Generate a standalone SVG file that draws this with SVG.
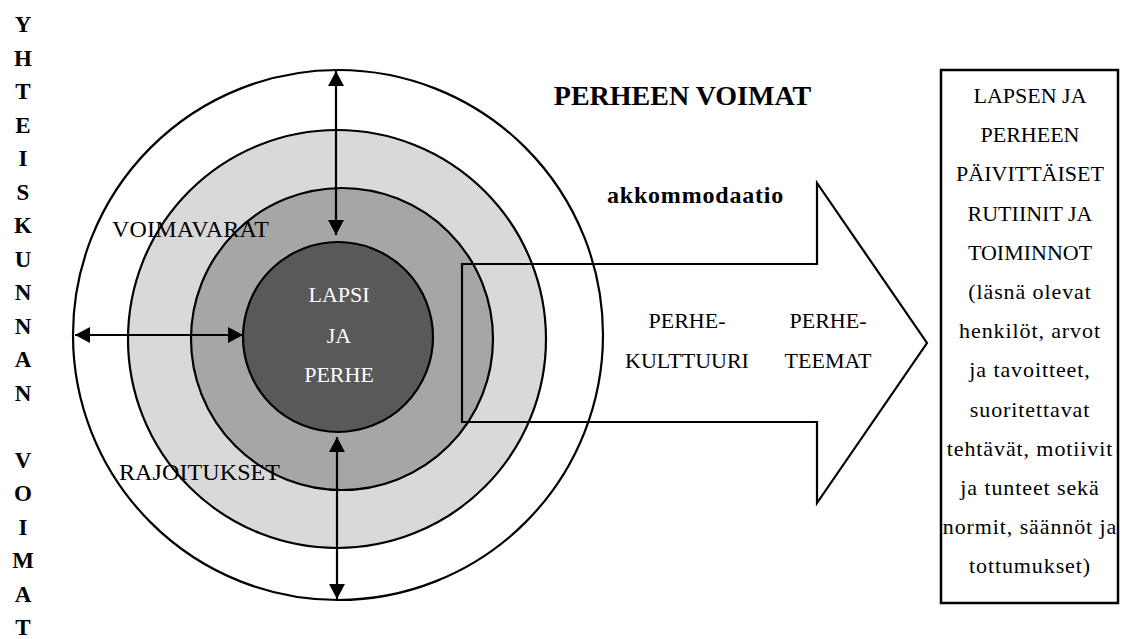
<svg xmlns="http://www.w3.org/2000/svg" width="1125" height="639" viewBox="0 0 1125 639">
<style>
.t{font-family:"Liberation Serif","Times New Roman",serif;fill:#000}
.b{font-weight:bold}
.w{fill:#fff}
.ln{fill:none;stroke:#000;stroke-width:2.2}
.el{stroke:#000;stroke-width:2.2}
</style>
<defs>
<marker id="ah" viewBox="0 0 15 16" refX="15" refY="8" markerWidth="15" markerHeight="16" markerUnits="userSpaceOnUse" orient="auto-start-reverse">
<path d="M0,0 L15,8 L0,16 Z" fill="#000"/>
</marker>
</defs>
<rect width="1125" height="639" fill="#fff"/>

<g id="society" class="t b" font-size="23" text-anchor="middle">
<text x="23" y="32">Y</text>
<text x="23" y="65.5">H</text>
<text x="23" y="99">T</text>
<text x="23" y="132.5">E</text>
<text x="23" y="166">I</text>
<text x="23" y="199.5">S</text>
<text x="23" y="233">K</text>
<text x="23" y="266.5">U</text>
<text x="23" y="300">N</text>
<text x="23" y="333.5">N</text>
<text x="23" y="367">A</text>
<text x="23" y="400.5">N</text>
<text x="23" y="467.5">V</text>
<text x="23" y="501">O</text>
<text x="23" y="534.5">I</text>
<text x="23" y="568">M</text>
<text x="23" y="601.5">A</text>
<text x="23" y="635">T</text>
</g>

<g id="outer-ring">
<circle class="el" cx="338" cy="335" r="265" fill="#fff"/>
</g>
<g id="voimavarat-ring">
<circle class="el" cx="337" cy="339" r="209" fill="#d9d9d9"/>
</g>
<g id="middle-ring">
<circle class="el" cx="342" cy="339" r="151" fill="#a6a6a6"/>
</g>
<g id="core">
<circle class="el" cx="338" cy="337" r="95" fill="#595959"/>
<g class="t w" font-size="22" text-anchor="middle">
<text x="339" y="302">LAPSI</text>
<text x="339" y="342.5">JA</text>
<text x="339" y="382">PERHE</text>
</g>
</g>

<g id="connectors">
<line class="ln" x1="336" y1="71" x2="336" y2="235" marker-start="url(#ah)" marker-end="url(#ah)"/>
<line class="ln" x1="337" y1="437" x2="337" y2="599" marker-start="url(#ah)" marker-end="url(#ah)"/>
<line class="ln" x1="75" y1="335" x2="243" y2="335" marker-start="url(#ah)" marker-end="url(#ah)"/>
</g>

<g id="akkommodaatio-arrow">
<polygon class="ln" points="462,264 817,264 817,183 927,343 817,503 817,422 462,422"/>
<g class="t" font-size="22" text-anchor="middle">
<text x="687" y="328">PERHE-</text>
<text x="687" y="368">KULTTUURI</text>
<text x="828" y="328">PERHE-</text>
<text x="828" y="368">TEEMAT</text>
</g>
<text class="t b" x="695.5" y="203" font-size="24" letter-spacing="0.8" text-anchor="middle">akkommodaatio</text>
</g>

<g id="labels" class="t" font-size="24">
<text x="112" y="237" letter-spacing="0.2">VOIMAVARAT</text>
<text x="119" y="480" letter-spacing="0.1">RAJOITUKSET</text>
</g>

<g id="title">
<text class="t b" x="682.5" y="105" font-size="28" text-anchor="middle">PERHEEN VOIMAT</text>
</g>

<g id="routines-box">
<rect x="941" y="70" width="177" height="533" fill="#fff" stroke="#000" stroke-width="2.5"/>
<g class="t" font-size="22" text-anchor="middle">
<text x="1030" y="103">LAPSEN JA</text>
<text x="1030" y="142.2">PERHEEN</text>
<text x="1030" y="181.4">PÄIVITTÄISET</text>
<text x="1030" y="220.6">RUTIINIT JA</text>
<text x="1030" y="259.8">TOIMINNOT</text>
<g letter-spacing="0.9">
<text x="1030" y="299">(läsnä olevat</text>
<text x="1030" y="338.2">henkilöt, arvot</text>
<text x="1030" y="377.4">ja tavoitteet,</text>
<text x="1030" y="416.6">suoritettavat</text>
<text x="1030" y="455.8">tehtävät, motiivit</text>
<text x="1030" y="495">ja tunteet sekä</text>
<text x="1030" y="534.2">normit, säännöt ja</text>
<text x="1030" y="573.4">tottumukset)</text>
</g>
</g>
</g>
</svg>
